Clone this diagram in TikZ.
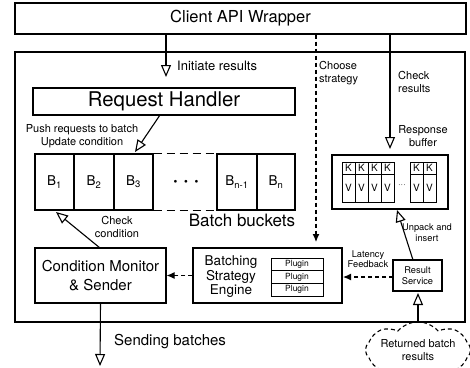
\documentclass[tikz,border=0pt]{standalone}
\usepackage{fontspec}
\setmainfont{TeX Gyre Heros}
\usetikzlibrary{arrows.meta,shapes.symbols}
\begin{document}
\begin{tikzpicture}[x=1pt,y=-1pt,
  box/.style={draw, line width=1.1pt, inner sep=0pt, align=center},
  cell/.style={draw, line width=0.8pt, inner sep=0pt},
  lbl/.style={inner sep=0pt, align=center},
  oarrow/.style={line width=1.1pt, -{Triangle[open, length=12pt, width=10pt, line width=1.1pt]}},
  darrow/.style={line width=1.1pt, dash pattern=on 4pt off 3pt, -{Latex[length=8pt, width=7pt]}},
  fXL/.style={font=\fontsize{20.3}{22}\selectfont},
  fL/.style={font=\fontsize{16.5}{19}\selectfont},
  fBB/.style={font=\fontsize{17}{19}\selectfont},
  fM/.style={font=\fontsize{15}{18}\selectfont},
  fB/.style={font=\fontsize{13.5}{14.5}\selectfont},
  fI/.style={font=\fontsize{13}{14}\selectfont},
  fS/.style={font=\fontsize{11}{13}\selectfont},
  fXS/.style={font=\fontsize{9.3}{10.5}\selectfont},
  fP/.style={font=\fontsize{8.5}{9}\selectfont},
  fK/.style={font=\fontsize{10}{10}\selectfont}
]
\useasboundingbox (0,0) rectangle (470,367);

% main boxes
\node[box, fL, minimum width=451pt, minimum height=31pt] (client) at (240.5,18.5) {Client API Wrapper};
\node[box, minimum width=450pt, minimum height=270pt] (outer) at (240,187) {};
\node[box, fXL, minimum width=262pt, minimum height=27pt] (req) at (164,101.5) {Request Handler};

% batch buckets
\node[cell, fB, line width=1.1pt, minimum width=39pt, minimum height=56pt] (b1) at (54.5,182) {B\textsubscript{1}};
\node[cell, fB, line width=1.1pt, minimum width=40pt, minimum height=56pt] (b2) at (94,182) {B\textsubscript{2}};
\node[cell, fB, line width=1.1pt, minimum width=39pt, minimum height=56pt] (b3) at (133.5,182) {B\textsubscript{3}};
\node[cell, fB, line width=1.1pt, minimum width=40pt, minimum height=56pt] (bn1) at (237,182) {B\textsubscript{n-1}};
\node[cell, fB, line width=1.1pt, minimum width=38pt, minimum height=56pt] (bn) at (276,182) {B\textsubscript{n}};
\draw[line width=1.1pt, dash pattern=on 8pt off 5pt] (b3.north east) -- (bn1.north west);
\draw[line width=1.1pt, dash pattern=on 8pt off 5pt] (b3.south east) -- (bn1.south west);
\node[lbl, font=\bfseries\fontsize{19}{19}\selectfont] (bdots) at (186,183) {· · ·};
\node[lbl, fBB] (bbl) at (242,220) {Batch buckets};

% condition monitor
\node[box, fM, minimum width=131pt, minimum height=55pt] (cond) at (100.5,275.5) {Condition Monitor\\[1pt]\& Sender};

% batching strategy engine
\node[box, minimum width=149pt, minimum height=55pt] (bse) at (267.5,275.5) {};
\node[lbl, fB] (bsetxt) at (231,277) {Batching\\Strategy\\Engine};
\node[cell, fP, minimum width=52pt, minimum height=12.7pt] (p1) at (297,264.3) {Plugin};
\node[cell, fP, minimum width=52pt, minimum height=12.7pt] (p2) at (297,277) {Plugin};
\node[cell, fP, minimum width=52pt, minimum height=12.7pt] (p3) at (297,289.7) {Plugin};

% result service
\node[box, fXS, minimum width=49pt, minimum height=31pt] (rs) at (417.5,275.5) {Result\\[1pt]Service};

% response buffer
\node[box, line width=1.4pt, minimum width=116pt, minimum height=54pt] (rb) at (390,182) {};
\foreach \i/\x in {1/348.5,2/361.5,3/374.5,4/387.5,5/416.5,6/429.5}{
  \node[cell, fK, minimum width=13pt, minimum height=12pt] (k\i) at (\x,168) {K};
  \node[cell, fK, minimum width=13pt, minimum height=28pt] (v\i) at (\x,188) {V};
}
\node[lbl, fXS] (kvdots) at (402,186) {···};

% returned batch results
\node[cloud, draw, line width=1.1pt, dash pattern=on 4pt off 3pt, cloud puffs=8, cloud puff arc=100, aspect=2.6,
      minimum width=104pt, minimum height=42pt, inner sep=0pt, align=center, fS] (ret) at (418,350) {Returned batch\\results};

% connectors
\coordinate (ia) at (166,77);
\draw[oarrow] (client.south -| ia) -- (ia);
\node[lbl, fI, anchor=west] (ialbl) at (177,66) {Initiate results};

\coordinate (cs) at (316,242);
\draw[darrow] (client.south -| cs) -- (cs);
\node[lbl, fS, anchor=west, align=left] (cslbl) at (319,73.5) {Choose\\strategy};

\coordinate (cr) at (390,149);
\draw[oarrow] (client.south -| cr) -- (cr);
\node[lbl, fS, anchor=west, align=left] (crlbl) at (398,81.5) {Check\\results};
\node[lbl, fS] (rblbl) at (423,136.5) {Response\\buffer};

\coordinate (ps) at (160,115);
\coordinate (pe) at (135,152);
\draw[oarrow] (ps) -- (pe);
\node[lbl, fS] (pslbl) at (82,136.5) {Push requests to batch\\Update condition};

\coordinate (cc) at (100,248);
\coordinate (ce) at (56,212);
\draw[oarrow] (cc) -- (ce);
\node[lbl, fS] (cclbl) at (117,227) {Check\\condition};

\draw[darrow] (bse.west) -- (cond.east);

\coordinate (lf1) at (393,277);
\coordinate (lf2) at (343,277);
\draw[darrow] (lf1) -- (lf2);
\node[lbl, fXS] (lflbl) at (368,259) {Latency\\Feedback};

\coordinate (us) at (413,260);
\coordinate (ue) at (397,210);
\draw[oarrow] (us) -- (ue);
\node[lbl, fXS] (uilbl) at (427,232.5) {Unpack and\\insert};

\coordinate (rr) at (418,293);
\draw[oarrow] (ret.north) -- (rr);

\coordinate (sb) at (100,366);
\draw[oarrow] (cond.south) -- (sb);
\node[lbl, fM, anchor=west] (sblbl) at (114,342) {Sending batches};
\end{tikzpicture}
\end{document}
